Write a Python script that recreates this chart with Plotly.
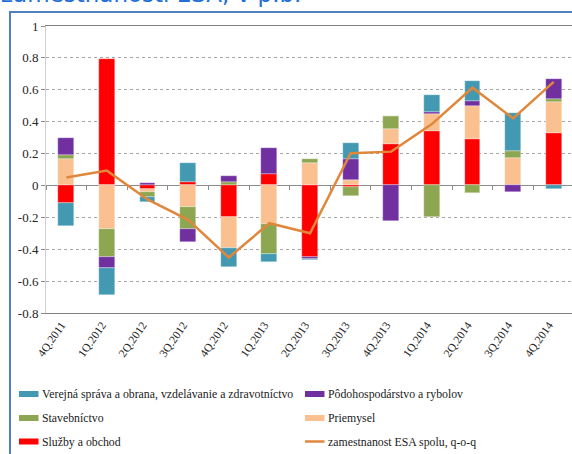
import plotly.graph_objects as go

# ---------------- data ----------------
categories = ["4Q.2011", "1Q.2012", "2Q.2012", "3Q.2012", "4Q.2012", "1Q.2013", "2Q.2013",
              "3Q.2013", "4Q.2013", "1Q.2014", "2Q.2014", "3Q.2014", "4Q.2014"]
sluzby = [-0.11, 0.79, -0.02, 0.02, -0.20, 0.07, -0.45, -0.01, 0.26, 0.34, 0.29, 0.0, 0.33]
priemysel = [0.165, -0.275, -0.023, -0.137, -0.19, -0.242, 0.14, 0.034, 0.094, 0.105, 0.209, 0.174, 0.194]
stavebnictvo = [0.025, -0.175, -0.03, -0.135, 0.024, -0.185, 0.027, -0.056, 0.079, -0.196, -0.05, 0.042, 0.019]
podohospodarstvo = [0.105, -0.07, 0.015, -0.085, 0.034, 0.167, -0.012, 0.13, -0.22, 0.016, 0.032, -0.04, 0.125]
verejna = [-0.145, -0.17, -0.032, 0.12, -0.122, -0.054, -0.008, 0.102, 0.0, 0.109, 0.125, 0.24, -0.025]
spolu = [0.05, 0.093, -0.088, -0.216, -0.452, -0.237, -0.30, 0.202, 0.212, 0.385, 0.613, 0.421, 0.65]

y_tickvals = [1, 0.8, 0.6, 0.4, 0.2, 0, -0.2, -0.4, -0.6, -0.8]
y_ticktext = ["1", "0.8", "0.6", "0.4", "0.2", "0", "-0.2", "-0.4", "-0.6", "-0.8"]

title_text = "zamestnanosti ESA, v p.b."
name_verejna = "Verejná správa a obrana, vzdelávanie a zdravotníctvo"
name_podo = "Pôdohospodárstvo a rybolov"
name_stav = "Stavebníctvo"
name_priem = "Priemysel"
name_sluzby = "Služby a obchod"
name_spolu = "zamestnanost ESA spolu, q-o-q"

# ---------------- styles ----------------
C_RED = "#FF0000"
C_PEACH = "#FAC090"
C_GREEN = "#8CA652"
C_PURPLE = "#7030A0"
C_TEAL = "#4499B2"
C_LINE = "#E0873C"
SERIF = '"Liberation Serif", "Times New Roman", "DejaVu Serif", serif'

W, H = 572, 454
ML, MR, MT, MB = 46, 0, 26, 141
PW, PH = W - ML - MR, H - MT - MB


def px_x(x):
    return (x - ML) / PW


def px_y(y):
    return (H - MB - y) / PH


fig = go.Figure()
bar_series = [
    (name_sluzby, sluzby, C_RED),
    (name_priem, priemysel, C_PEACH),
    (name_stav, stavebnictvo, C_GREEN),
    (name_podo, podohospodarstvo, C_PURPLE),
    (name_verejna, verejna, C_TEAL),
]
for nm, vals, col in bar_series:
    fig.add_trace(go.Bar(x=categories, y=vals, name=nm, width=0.39,
                         marker=dict(color=col, line=dict(color="rgba(255,255,255,0.6)", width=0.5)),
                         showlegend=False))

fig.add_trace(go.Scatter(x=categories, y=spolu, name=name_spolu, mode="lines",
                         line=dict(color=C_LINE, width=2.5), xaxis="x2", yaxis="y",
                         showlegend=False))

fig.update_layout(
    width=W, height=H,
    margin=dict(l=ML, r=MR, t=MT, b=MB, pad=0),
    paper_bgcolor="white", plot_bgcolor="white",
    barmode="relative", bargap=0,
    showlegend=False,
    xaxis=dict(type="category", categoryarray=categories, range=[-0.5, 12.45],
               showline=True, mirror=True, linecolor="#808080", linewidth=1,
               showgrid=False, zeroline=False, ticks="", tickangle=-55,
               ticklabelshift=-5,
               tickfont=dict(family=SERIF, size=11.5, color="#262626")),
    xaxis2=dict(type="category", categoryarray=categories, range=[-0.5, 12.45],
                overlaying="x", anchor="free", position=0.8 / 1.8,
                showline=True, linecolor="#8C8C8C", linewidth=1, layer="below traces",
                ticks="outside", tickson="boundaries", ticklen=4, tickcolor="#8C8C8C",
                showticklabels=False, showgrid=False, zeroline=False),
    yaxis=dict(range=[-0.8, 1], tickvals=y_tickvals, ticktext=y_ticktext,
               showline=True, linecolor="#D0D0D0", linewidth=1,
               ticks="outside", ticklen=4, tickcolor="#8C8C8C",
               showgrid=True, gridcolor="#A6A6A6", griddash="dot", gridwidth=1,
               zeroline=False,
               tickfont=dict(family=SERIF, size=13, color="#262626")),
)

shapes = []
annotations = []

# outer blue frame (extends beyond the visible area)
shapes.append(dict(type="rect", xref="paper", yref="paper",
                   x0=px_x(10), x1=px_x(700), y0=px_y(600), y1=px_y(12),
                   line=dict(color="#4F81BD", width=2), fillcolor="rgba(0,0,0,0)", layer="below"))

# cut-off title
annotations.append(dict(text=title_text, xref="paper", yref="paper",
                        x=px_x(-1), y=px_y(9.5), xanchor="left", yanchor="bottom",
                        showarrow=False, font=dict(family="DejaVu Sans, Verdana, sans-serif",
                                                   size=23, color="#1F6FD6")))

# custom legend
legend_items = [
    (name_verejna, C_TEAL, "bar", 19, 39.5, 394),
    (name_podo, C_PURPLE, "bar", 305, 326, 394),
    (name_stav, C_GREEN, "bar", 19, 39.5, 418),
    (name_priem, C_PEACH, "bar", 305, 326, 418),
    (name_sluzby, C_RED, "bar", 19, 39.5, 441.5),
    (name_spolu, C_LINE, "line", 305, 326, 441.5),
]
for nm, col, kind, sx, tx, cy in legend_items:
    if kind == "bar":
        shapes.append(dict(type="rect", xref="paper", yref="paper",
                           x0=px_x(sx), x1=px_x(sx + 19.5), y0=px_y(cy + 3), y1=px_y(cy - 3),
                           line=dict(width=0), fillcolor=col))
    else:
        shapes.append(dict(type="line", xref="paper", yref="paper",
                           x0=px_x(sx), x1=px_x(sx + 19.5), y0=px_y(cy), y1=px_y(cy),
                           line=dict(color=col, width=2.5)))
    annotations.append(dict(text=nm, xref="paper", yref="paper", x=px_x(tx), y=px_y(cy),
                            xanchor="left", yanchor="middle", showarrow=False,
                            font=dict(family=SERIF, size=11.8, color="#1a1a1a")))

fig.update_layout(shapes=shapes, annotations=annotations)
fig.write_html("out.html", config={"displayModeBar": False},
               post_script="document.body.style.margin='0';document.body.style.padding='0';")
